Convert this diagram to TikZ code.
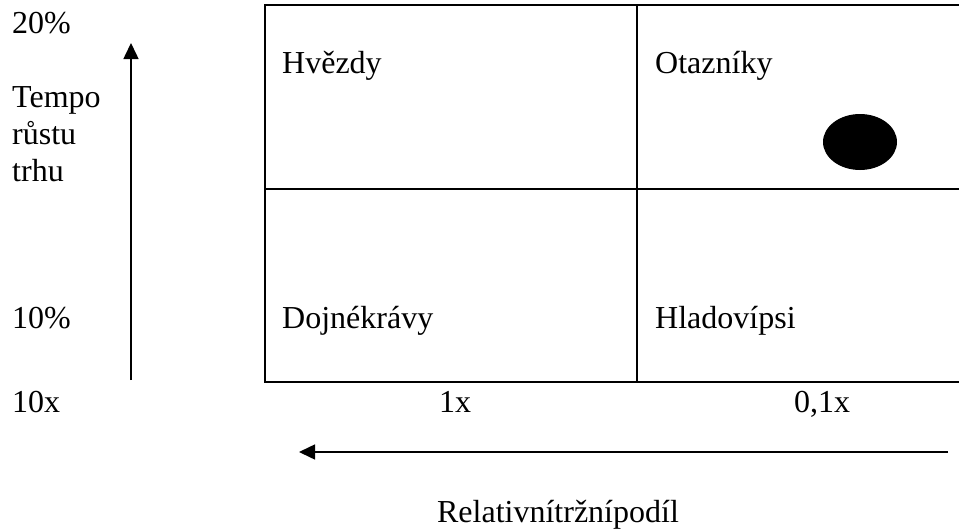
\documentclass[tikz,border=0pt]{standalone}
\usepackage{fontspec}
\setmainfont{Liberation Serif}
\usetikzlibrary{arrows.meta}

\pgfmathsetmacro{\splitx}{637}
\pgfmathsetmacro{\splity}{189}

\begin{document}
\begin{tikzpicture}[x=1pt,y=-1pt,
    lbl/.style={anchor=base west,inner sep=0pt,font=\fontsize{32}{37}\selectfont},
    tick/.style={anchor=base,inner sep=0pt,font=\fontsize{32}{37}\selectfont},
    axis/.style={line width=1.5pt,-{Triangle[length=16pt,width=15pt]}}]
    \useasboundingbox (0,0) rectangle (959,530);
    % the four fields, open on the right
    \draw[line width=2pt] (959,5) -- (265,5) -- (265,382) -- (959,382);
    \draw[line width=2pt] (\splitx,5) -- (\splitx,382);
    \draw[line width=2pt] (265,\splity) -- (959,\splity);
    \node[lbl] (hvezdy) at (282,73) {Hvězdy};
    \node[lbl] (otazniky) at (655,73) {Otazníky};
    \node[lbl] (dojne) at (282,328) {Dojnékrávy};
    \node[lbl] (hladovi) at (655,328) {Hladovípsi};
    \fill (860,142) ellipse (37 and 28);
    % vertical axis
    \node[lbl] (p20) at (12,33) {20\%};
    \node[lbl] (tempo) at (12,107) {Tempo};
    \node[lbl] (rustu) at (12,144) {růstu};
    \node[lbl] (trhu) at (12,181) {trhu};
    \node[lbl] (p10) at (12,328) {10\%};
    \node[lbl] (x10) at (12,412) {10x};
    \coordinate (ybot) at (131,380);
    \coordinate (ytop) at (131,43);
    \draw[axis] (ybot) -- (ytop);
    % horizontal axis
    \node[tick] (x1) at (455,412) {1x};
    \node[tick] (x01) at (822,412) {0,1x};
    \coordinate (xright) at (948,452);
    \coordinate (xleft) at (299,452);
    \draw[axis] (xright) -- (xleft);
    \node[tick] (podil) at (558,522) {Relativnítržnípodíl};
\end{tikzpicture}
\end{document}
